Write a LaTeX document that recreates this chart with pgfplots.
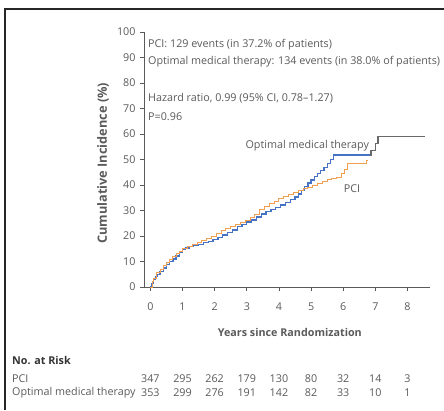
\documentclass[border=0pt]{standalone}
\usepackage{fontspec}
\setmainfont{Open Sans}
\usepackage{pgfplots}
\pgfplotsset{compat=1.18}
\definecolor{omt}{RGB}{70,115,195}
\definecolor{pci}{RGB}{240,160,80}
\definecolor{omtend}{RGB}{105,105,105}
\definecolor{txt}{RGB}{90,90,90}
\newcommand{\fs}{\fontsize{10.8}{12}\selectfont}
\begin{document}
\begin{tikzpicture}[x=1bp,y=1bp]
\useasboundingbox (0,0) rectangle (444,410);
\draw[line width=1.4bp, black!85] (5,0) -- (5,401) -- (444,401);
\begin{axis}[
  at={(144bp,123bp)}, anchor=south west,
  scale only axis, width=286bp, height=255bp,
  xmin=-0.2, xmax=8.7, ymin=0, ymax=100,
  axis x line*=bottom, axis y line*=left,
  axis line style={-, txt, line width=0.8bp},
  xtick={0,...,8}, ytick={0,10,...,100},
  tick align=outside, major tick length=4bp,
  tick style={txt, line width=0.8bp},
  ticklabel style={font=\fs, text=txt},
  x tick label style={yshift=-8bp},
  y tick label style={xshift=-1bp},
  /pgf/number format/assume math mode=true,
  clip=false,
  xlabel={\bfseries Years since Randomization},
  ylabel={\bfseries Cumulative Incidence (\%)},
  xlabel style={at={(axis description cs:0.51,0)}, anchor=center, yshift=-45bp, font=\fs, text=txt},
  ylabel style={at={(axis description cs:-0.143,0.485)}, anchor=center, font=\fontsize{12.8}{14}\selectfont, text=txt},
]
% Optimal medical therapy
\addplot[const plot, omt, line width=1.3bp] coordinates {
(0,0) (0.05,1.5) (0.1,3) (0.15,4.2) (0.2,5) (0.3,6.2) (0.4,7.5) (0.5,8.8)
(0.6,10) (0.7,11) (0.8,12.2) (0.9,13.5) (1.0,14.8) (1.1,15.3) (1.2,15.8)
(1.35,16.3) (1.5,16.8) (1.65,17.4) (1.8,17.9) (1.95,18.5) (2.1,19.5)
(2.25,20.4) (2.4,21.3) (2.55,22.4) (2.7,23.6) (2.85,24.6) (3.0,25.5)
(3.15,26.3) (3.3,27.5) (3.45,28.6) (3.6,29.5) (3.75,30.3) (3.9,31.2)
(4.05,32.1) (4.2,33.2) (4.35,34.2) (4.5,35.3) (4.6,36.5) (4.7,37.9)
(4.8,39.3) (4.9,40.8) (5.0,42) (5.1,43.2) (5.2,44.4) (5.3,45.6) (5.4,47)
(5.5,48.5) (5.6,50) (5.7,51.8) (6.82,51.8)
};
\addplot[const plot, omtend, line width=1.3bp] coordinates {
(6.82,51.8) (6.86,53.6) (7.0,56.3) (7.08,59) (8.55,59)
};
% PCI
\addplot[const plot, pci, line width=1.0bp] coordinates {
(0,0) (0.05,2) (0.1,3.5) (0.2,5.5) (0.3,7) (0.4,8.3) (0.5,9.5) (0.6,10.7)
(0.7,11.8) (0.8,13) (0.9,14) (1.0,15) (1.15,15.8) (1.3,16.6) (1.45,17.4)
(1.6,18.2) (1.75,19.0) (1.9,20) (2.05,21) (2.2,22) (2.35,22.8) (2.5,23.6)
(2.65,24.4) (2.8,25.1) (2.95,26) (3.1,27.2) (3.25,28.6) (3.4,30.3)
(3.55,31.6) (3.7,32.6) (3.85,33.6) (4.0,34.8) (4.15,35.6) (4.3,36.4)
(4.45,37.2) (4.6,37.9) (4.75,38.5) (4.9,39.2) (5.05,39.9) (5.2,40.6)
(5.35,41.3) (5.5,42) (5.65,42.5) (5.8,43) (5.95,44.5) (6.05,46)
(6.12,48.5) (6.72,49.8) (6.78,49.8)
};
\node[font=\fs, text=txt] at (axis cs:4.88,55.3) {Optimal medical therapy};
\node[font=\fs, text=txt] at (axis cs:6.27,38.4) {PCI};
\end{axis}
\foreach \x/\a/\b in {0/347/353,1/295/299,2/262/276,3/179/191,4/130/142,5/80/82,6/32/33,7/14/10,8/3/1}{
  \node[font=\fs, text=txt] at ({150.4+32.13*\x},31) {\a};
  \node[font=\fs, text=txt] at ({150.4+32.13*\x},17) {\b};
}
\begin{scope}[every node/.style={font=\fs, text=txt, anchor=west, inner sep=0pt}]
\node at (148,365) {PCI: 129 events (in 37.2\% of patients)};
\node at (148,348) {Optimal medical therapy: 134 events (in 38.0\% of patients)};
\node at (148,312) {Hazard ratio, 0.99 (95\% CI, 0.78--1.27)};
\node at (148,293) {P=0.96};
\node[font=\fs\bfseries, text=black!80] at (12,50) {No. at Risk};
\node at (12,31) {PCI};
\node at (12,17) {Optimal medical therapy};
\end{scope}
\end{tikzpicture}
\end{document}
